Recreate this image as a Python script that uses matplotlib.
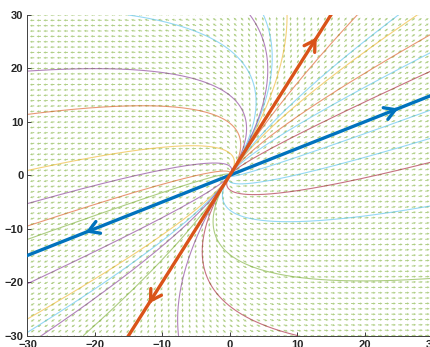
import numpy as np
import matplotlib.pyplot as plt

# linear system x' = A x, eigenvalues 2 (along v_fast) and 1 (along v_slow)
v_fast = np.array([2.0, 1.0])
v_slow = np.array([1.0, 2.0])
lam_fast = 2.0
lam_slow = 1.0

# where each thin trajectory leaves the box, and its colour index (matlab order)
exit_x = [-30, -30, -30, -30, -30, -30, -30, -30, -30,
          -27.9, -21.7, -7.6, 10,
          30, 30, 30, 30, 30, 30, 30, 30,
          27.8, 25, 18.9, 8.5, 5, 3, -15]
exit_y = [19.5, 11.4, 0.9, -5.3, -9.5, -12.0, -20.3, -26.9, -29.4,
          -30, -30, -30, -30,
          -19.3, -5.7, 2.5, 7.0, 12.3, 19.6, 23.1, 26.5,
          30, 30, 30, 30, 30, 30, 30]
exit_col = [3, 1, 2, 3, 1, 4, 3, 2, 5,
            3, 4, 3, 6,
            4, 5, 6, 5, 5, 6, 5, 1,
            2, 5, 1, 2, 5, 3, 5]

# arrow heads on the eigen-lines, as multiples of each eigenvector
fast_arrows = [12.5, -10.7]
slow_arrows = [12.9, -12.0]

ticks = [-30, -20, -10, 0, 10, 20, 30]

mcol = [(0, 0.447, 0.741), (0.85, 0.325, 0.098), (0.929, 0.694, 0.125),
        (0.494, 0.184, 0.556), (0.466, 0.674, 0.188), (0.301, 0.745, 0.933),
        (0.635, 0.078, 0.184)]

V = np.column_stack([v_fast, v_slow])
Vinv = np.linalg.inv(V)
A = V @ np.diag([lam_fast, lam_slow]) @ Vinv

plt.rcParams['font.family'] = ['Liberation Sans', 'DejaVu Sans']
fig = plt.figure(figsize=(4.31, 3.47), dpi=100)
ax = fig.add_axes([0.0638, 0.0331, 0.9385, 0.9236])

# direction field
g = np.arange(-30, 31, 1.0)
X, Y = np.meshgrid(g, g)
U = A[0, 0] * X + A[0, 1] * Y
W = A[1, 0] * X + A[1, 1] * Y
n = np.hypot(U, W)
n[n == 0] = 1
L = 0.65
ax.quiver(X, Y, L * U / n, L * W / n, angles='xy', scale_units='xy', scale=1,
          color=mcol[4], alpha=0.6, width=0.0024, headwidth=2.5,
          headlength=2.5, headaxislength=2.2, zorder=1)

# trajectories: exact solution run back from the exit point to the origin
s = np.linspace(0, 1, 300)
for x0, y0, c in zip(exit_x, exit_y, exit_col):
    p0, q0 = Vinv @ np.array([x0, y0])
    px = p0 * s ** 2 * v_fast[0] + q0 * s * v_slow[0]
    py = p0 * s ** 2 * v_fast[1] + q0 * s * v_slow[1]
    ax.plot(px, py, color=mcol[c], lw=0.8, alpha=0.6, zorder=2)

# eigen-lines
t = np.linspace(-15, 15, 2)
ax.plot(t * v_fast[0], t * v_fast[1], color=mcol[0], lw=2.4, zorder=3)
ax.plot(t * v_slow[0], t * v_slow[1], color=mcol[1], lw=2.4, zorder=3)

for vec, pos, c in [(v_fast, fast_arrows, mcol[0]), (v_slow, slow_arrows, mcol[1])]:
    for a in pos:
        tip = a * vec
        d = np.sign(a) * vec / np.linalg.norm(vec)
        ax.annotate('', xy=tip, xytext=tip - 0.5 * d,
                    arrowprops=dict(arrowstyle='->,head_length=0.75,head_width=0.45',
                                    color=c, lw=2.4, shrinkA=0, shrinkB=0),
                    zorder=4)

ax.set_xlim(-30, 30)
ax.set_ylim(-30, 30)
ax.set_xticks(ticks)
ax.set_yticks(ticks)
for sp in ['top', 'right']:
    ax.spines[sp].set_visible(False)
for sp in ['left', 'bottom']:
    ax.spines[sp].set_color('0.25')
    ax.spines[sp].set_linewidth(0.7)
ax.tick_params(direction='in', length=3, width=0.7, colors='0.25',
               labelsize=8, pad=3)
for lab in ax.get_xticklabels() + ax.get_yticklabels():
    lab.set_color('0.15')
    lab.set_fontweight('bold')

fig.savefig('out.png', dpi=100)
